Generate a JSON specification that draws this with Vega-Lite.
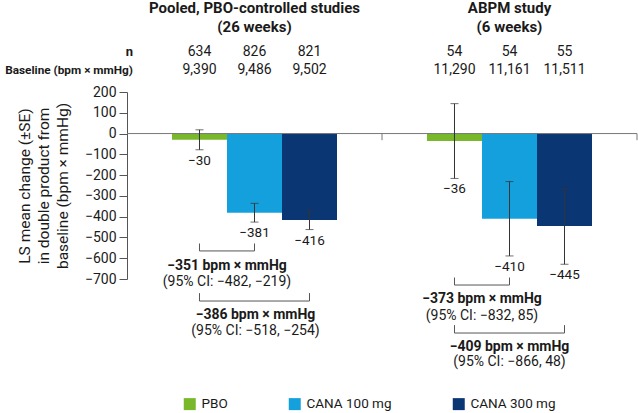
{
  "$schema": "https://vega.github.io/schema/vega-lite/v6.json",
  "width": 510,
  "height": 187,
  "autosize": {"type": "none"},
  "padding": {"left": 127, "top": 92, "right": 1, "bottom": 134},
  "config": {
    "font": "Roboto",
    "view": {"stroke": null},
    "axis": {"labelOverlap": false, "labelBound": false, "labelFlush": false},
    "text": {"font": "Roboto", "color": "#1a1a1a"}
  },
  "datasets": {
    "bars": [
      {"group": "Pooled", "treat": "PBO", "mean": -30, "lo": -78, "hi": 18, "n": 634, "baseline": "9,390"},
      {"group": "Pooled", "treat": "CANA 100 mg", "mean": -381, "lo": -426, "hi": -336, "n": 826, "baseline": "9,486"},
      {"group": "Pooled", "treat": "CANA 300 mg", "mean": -416, "lo": -462, "hi": -370, "n": 821, "baseline": "9,502"},
      {"group": "ABPM", "treat": "PBO", "mean": -36, "lo": -216, "hi": 144, "n": 54, "baseline": "11,290"},
      {"group": "ABPM", "treat": "CANA 100 mg", "mean": -410, "lo": -589, "hi": -231, "n": 54, "baseline": "11,161"},
      {"group": "ABPM", "treat": "CANA 300 mg", "mean": -445, "lo": -629, "hi": -263, "n": 55, "baseline": "11,511"}
    ],
    "groups": [
      {"group": "Pooled", "title": "Pooled, PBO-controlled studies\n(26 weeks)"},
      {"group": "ABPM", "title": "ABPM study\n(6 weeks)"}
    ],
    "rowLabels": [
      {"group": "Pooled", "nlabel": "n", "blabel": "Baseline (bpm × mmHg)"}
    ],
    "bracketEnds": [
      {"id": "P1", "group": "Pooled", "treat": "PBO"},
      {"id": "P1", "group": "Pooled", "treat": "CANA 100 mg"},
      {"id": "P2", "group": "Pooled", "treat": "PBO"},
      {"id": "P2", "group": "Pooled", "treat": "CANA 300 mg"},
      {"id": "A1", "group": "ABPM", "treat": "PBO"},
      {"id": "A1", "group": "ABPM", "treat": "CANA 100 mg"},
      {"id": "A2", "group": "ABPM", "treat": "PBO"},
      {"id": "A2", "group": "ABPM", "treat": "CANA 300 mg"}
    ],
    "bracketLabels": [
      {"id": "P1", "group": "Pooled", "diff": "−351 bpm × mmHg", "ci": "(95% CI: −482, −219)"},
      {"id": "P2", "group": "Pooled", "diff": "−386 bpm × mmHg", "ci": "(95% CI: −518, −254)"},
      {"id": "A1", "group": "ABPM", "diff": "−373 bpm × mmHg", "ci": "(95% CI: −832, 85)"},
      {"id": "A2", "group": "ABPM", "diff": "−409 bpm × mmHg", "ci": "(95% CI: −866, 48)"}
    ]
  },
  "layer": [
    {
      "data": {"name": "bars"},
      "mark": {"type": "bar"},
      "encoding": {
        "x": {"field": "group", "type": "nominal", "scale": {"domain": ["Pooled", "ABPM"], "paddingInner": 0, "paddingOuter": 0}, "axis": null},
        "xOffset": {"field": "treat", "type": "nominal", "scale": {"domain": ["PBO", "CANA 100 mg", "CANA 300 mg"], "paddingInner": 0, "paddingOuter": 0.818}},
        "y": {
          "field": "mean", "type": "quantitative",
          "scale": {"domain": [-700, 200], "nice": false, "zero": false},
          "axis": {
            "values": [200, 100, 0, -100, -200, -300, -400, -500, -600, -700],
            "tickCount": 20,
            "labelOverlap": false,
            "grid": false, "domain": true, "domainColor": "#555", "tickColor": "#555",
            "tickSize": 8, "labelPadding": 3, "labelFont": "Roboto", "labelFontSize": 14, "labelColor": "#1a1a1a",
            "title": ["LS mean change (±SE)", "in double product from", "baseline (bpm × mmHg)"],
            "titleFont": "Roboto", "titleFontSize": 15.5, "titleFontWeight": "normal", "titleColor": "#1a1a1a",
            "titleLineHeight": 19, "titlePadding": 14
          }
        },
        "color": {
          "field": "treat", "type": "nominal",
          "scale": {"domain": ["PBO", "CANA 100 mg", "CANA 300 mg"], "range": ["#78B82A", "#14A0DC", "#0B3674"]},
          "legend": {
            "title": null, "orient": "none", "direction": "horizontal", "legendX": 56, "legendY": 305,
            "symbolType": "square", "symbolSize": 144, "symbolStrokeWidth": 0, "symbolOpacity": 1,
            "labelFont": "Roboto", "labelFontSize": 13.5, "labelColor": "#1a1a1a", "labelOffset": 5,
            "columnPadding": 60, "padding": 0
          }
        }
      }
    },
    {
      "data": {"values": [{}]},
      "mark": {"type": "rule", "color": "#777", "strokeWidth": 1},
      "encoding": {"y": {"datum": 0}}
    },
    {
      "data": {"name": "groups"},
      "mark": {"type": "rule", "color": "#777", "strokeWidth": 1},
      "encoding": {"x": {"field": "group", "type": "nominal", "bandPosition": 1}, "y": {"datum": 0}, "y2": {"datum": -32}}
    },
    {
      "data": {"name": "bars"},
      "mark": {"type": "rule", "color": "#333", "strokeWidth": 1},
      "encoding": {"x": {"field": "group", "type": "nominal"}, "xOffset": {"field": "treat", "type": "nominal"}, "y": {"field": "lo", "type": "quantitative"}, "y2": {"field": "hi"}}
    },
    {
      "data": {"name": "bars"},
      "mark": {"type": "tick", "color": "#333", "size": 8, "thickness": 1},
      "encoding": {"x": {"field": "group", "type": "nominal"}, "xOffset": {"field": "treat", "type": "nominal"}, "y": {"field": "lo", "type": "quantitative"}}
    },
    {
      "data": {"name": "bars"},
      "mark": {"type": "tick", "color": "#333", "size": 8, "thickness": 1},
      "encoding": {"x": {"field": "group", "type": "nominal"}, "xOffset": {"field": "treat", "type": "nominal"}, "y": {"field": "hi", "type": "quantitative"}}
    },
    {
      "data": {"name": "bars"},
      "mark": {"type": "text", "fontSize": 13.5, "baseline": "middle", "dy": 11},
      "encoding": {"x": {"field": "group", "type": "nominal"}, "xOffset": {"field": "treat", "type": "nominal"}, "y": {"field": "lo", "type": "quantitative"}, "text": {"field": "mean", "type": "quantitative", "format": "d"}}
    },
    {
      "data": {"name": "bars"},
      "mark": {"type": "text", "fontSize": 14, "baseline": "middle"},
      "encoding": {"x": {"field": "group", "type": "nominal"}, "xOffset": {"field": "treat", "type": "nominal"}, "y": {"datum": 393}, "text": {"field": "n", "type": "nominal"}}
    },
    {
      "data": {"name": "bars"},
      "mark": {"type": "text", "fontSize": 14, "baseline": "middle"},
      "encoding": {"x": {"field": "group", "type": "nominal"}, "xOffset": {"field": "treat", "type": "nominal"}, "y": {"datum": 306}, "text": {"field": "baseline", "type": "nominal"}}
    },
    {
      "data": {"name": "groups"},
      "mark": {"type": "text", "fontSize": 15, "fontWeight": "bold", "baseline": "middle", "lineBreak": "\n", "lineHeight": 19},
      "encoding": {"x": {"field": "group", "type": "nominal"}, "y": {"datum": 604}, "text": {"field": "title", "type": "nominal"}}
    },
    {
      "data": {"name": "rowLabels"},
      "mark": {"type": "text", "fontSize": 13, "fontWeight": "bold", "baseline": "middle", "align": "right", "dx": 6},
      "encoding": {"x": {"field": "group", "type": "nominal", "bandPosition": 0}, "y": {"datum": 393}, "text": {"field": "nlabel", "type": "nominal"}}
    },
    {
      "data": {"name": "rowLabels"},
      "mark": {"type": "text", "fontSize": 11.8, "fontWeight": "bold", "baseline": "middle", "align": "right", "dx": 6},
      "encoding": {"x": {"field": "group", "type": "nominal", "bandPosition": 0}, "y": {"datum": 306}, "text": {"field": "blabel", "type": "nominal"}}
    },
    {
      "layer": [
        {"data": {"name": "bracketEnds"}, "transform": [{"filter": "datum.id === 'P1'"}], "mark": {"type": "line", "color": "#555", "strokeWidth": 1}, "encoding": {"x": {"field": "group", "type": "nominal"}, "xOffset": {"field": "treat", "type": "nominal"}, "y": {"datum": -565}}},
        {"data": {"name": "bracketEnds"}, "transform": [{"filter": "datum.id === 'P1'"}], "mark": {"type": "rule", "color": "#555", "strokeWidth": 1}, "encoding": {"x": {"field": "group", "type": "nominal"}, "xOffset": {"field": "treat", "type": "nominal"}, "y": {"datum": -565}, "y2": {"datum": -529}}},
        {"data": {"name": "bracketLabels"}, "transform": [{"filter": "datum.id === 'P1'"}], "mark": {"type": "text", "fontSize": 14, "fontWeight": "bold", "baseline": "middle", "dy": 15, "dx": -27.5}, "encoding": {"x": {"field": "group", "type": "nominal"}, "y": {"datum": -565}, "text": {"field": "diff", "type": "nominal"}}},
        {"data": {"name": "bracketLabels"}, "transform": [{"filter": "datum.id === 'P1'"}], "mark": {"type": "text", "fontSize": 14, "baseline": "middle", "dy": 31, "dx": -27.5}, "encoding": {"x": {"field": "group", "type": "nominal"}, "y": {"datum": -565}, "text": {"field": "ci", "type": "nominal"}}}
      ]
    },
    {
      "layer": [
        {"data": {"name": "bracketEnds"}, "transform": [{"filter": "datum.id === 'P2'"}], "mark": {"type": "line", "color": "#555", "strokeWidth": 1}, "encoding": {"x": {"field": "group", "type": "nominal"}, "xOffset": {"field": "treat", "type": "nominal"}, "y": {"datum": -806}}},
        {"data": {"name": "bracketEnds"}, "transform": [{"filter": "datum.id === 'P2'"}], "mark": {"type": "rule", "color": "#555", "strokeWidth": 1}, "encoding": {"x": {"field": "group", "type": "nominal"}, "xOffset": {"field": "treat", "type": "nominal"}, "y": {"datum": -806}, "y2": {"datum": -768}}},
        {"data": {"name": "bracketLabels"}, "transform": [{"filter": "datum.id === 'P2'"}], "mark": {"type": "text", "fontSize": 14, "fontWeight": "bold", "baseline": "middle", "dy": 14, "dx": 1}, "encoding": {"x": {"field": "group", "type": "nominal"}, "y": {"datum": -806}, "text": {"field": "diff", "type": "nominal"}}},
        {"data": {"name": "bracketLabels"}, "transform": [{"filter": "datum.id === 'P2'"}], "mark": {"type": "text", "fontSize": 14, "baseline": "middle", "dy": 30, "dx": 1}, "encoding": {"x": {"field": "group", "type": "nominal"}, "y": {"datum": -806}, "text": {"field": "ci", "type": "nominal"}}}
      ]
    },
    {
      "layer": [
        {"data": {"name": "bracketEnds"}, "transform": [{"filter": "datum.id === 'A1'"}], "mark": {"type": "line", "color": "#555", "strokeWidth": 1}, "encoding": {"x": {"field": "group", "type": "nominal"}, "xOffset": {"field": "treat", "type": "nominal"}, "y": {"datum": -729}}},
        {"data": {"name": "bracketEnds"}, "transform": [{"filter": "datum.id === 'A1'"}], "mark": {"type": "rule", "color": "#555", "strokeWidth": 1}, "encoding": {"x": {"field": "group", "type": "nominal"}, "xOffset": {"field": "treat", "type": "nominal"}, "y": {"datum": -729}, "y2": {"datum": -693}}},
        {"data": {"name": "bracketLabels"}, "transform": [{"filter": "datum.id === 'A1'"}], "mark": {"type": "text", "fontSize": 14, "fontWeight": "bold", "baseline": "middle", "dy": 14, "dx": -27.5}, "encoding": {"x": {"field": "group", "type": "nominal"}, "y": {"datum": -729}, "text": {"field": "diff", "type": "nominal"}}},
        {"data": {"name": "bracketLabels"}, "transform": [{"filter": "datum.id === 'A1'"}], "mark": {"type": "text", "fontSize": 14, "baseline": "middle", "dy": 31, "dx": -27.5}, "encoding": {"x": {"field": "group", "type": "nominal"}, "y": {"datum": -729}, "text": {"field": "ci", "type": "nominal"}}}
      ]
    },
    {
      "layer": [
        {"data": {"name": "bracketEnds"}, "transform": [{"filter": "datum.id === 'A2'"}], "mark": {"type": "line", "color": "#555", "strokeWidth": 1}, "encoding": {"x": {"field": "group", "type": "nominal"}, "xOffset": {"field": "treat", "type": "nominal"}, "y": {"datum": -960}}},
        {"data": {"name": "bracketEnds"}, "transform": [{"filter": "datum.id === 'A2'"}], "mark": {"type": "rule", "color": "#555", "strokeWidth": 1}, "encoding": {"x": {"field": "group", "type": "nominal"}, "xOffset": {"field": "treat", "type": "nominal"}, "y": {"datum": -960}, "y2": {"datum": -922}}},
        {"data": {"name": "bracketLabels"}, "transform": [{"filter": "datum.id === 'A2'"}], "mark": {"type": "text", "fontSize": 14, "fontWeight": "bold", "baseline": "middle", "dy": 14, "dx": 0}, "encoding": {"x": {"field": "group", "type": "nominal"}, "y": {"datum": -960}, "text": {"field": "diff", "type": "nominal"}}},
        {"data": {"name": "bracketLabels"}, "transform": [{"filter": "datum.id === 'A2'"}], "mark": {"type": "text", "fontSize": 14, "baseline": "middle", "dy": 29, "dx": 0}, "encoding": {"x": {"field": "group", "type": "nominal"}, "y": {"datum": -960}, "text": {"field": "ci", "type": "nominal"}}}
      ]
    }
  ]
}
